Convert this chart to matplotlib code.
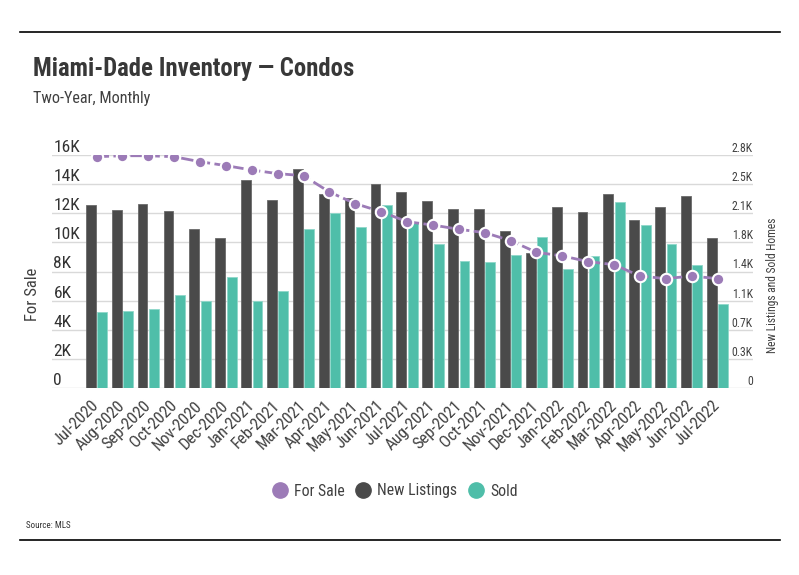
import numpy as np
import matplotlib
matplotlib.use("Agg")
from matplotlib import pyplot as plt
from matplotlib.lines import Line2D

plt.rcParams['font.family'] = ['Roboto Condensed', 'Lato', 'DejaVu Sans']

months = ["Jul-2020", "Aug-2020", "Sep-2020", "Oct-2020", "Nov-2020", "Dec-2020",
          "Jan-2021", "Feb-2021", "Mar-2021", "Apr-2021", "May-2021", "Jun-2021",
          "Jul-2021", "Aug-2021", "Sep-2021", "Oct-2021", "Nov-2021", "Dec-2021",
          "Jan-2022", "Feb-2022", "Mar-2022", "Apr-2022", "May-2022", "Jun-2022",
          "Jul-2022"]

# homes for sale (left axis)
for_sale = [15880, 15950, 15950, 15880, 15540, 15270, 14970, 14720, 14580, 13460,
            12660, 12110, 11420, 11190, 10900, 10670, 10120, 9320, 9070, 8680,
            8470, 7690, 7510, 7690, 7510]

# new listings and sold homes (right axis)
new_listings = [2199, 2139, 2211, 2127, 1911, 1803, 2500, 2259, 2632, 2331, 2279, 2451,
                2355, 2247, 2151, 2151, 1887, 1622, 2175, 2115, 2331, 2019, 2175, 2307,
                1803]
sold = [913, 925, 949, 1118, 1045, 1334, 1045, 1166, 1911, 2103, 1935, 2199,
        1979, 1730, 1526, 1514, 1598, 1815, 1430, 1586, 2235, 1959, 1730, 1478,
        1009]

left_ticks = np.arange(0, 16001, 2000)
right_ticks = np.arange(0, 2801, 350)

PURPLE = '#9c7bb7'
DARK = '#4a4a4a'
TEAL = '#4fbea9'
TXT = '#404040'

fig = plt.figure(figsize=(7.99, 5.75), dpi=100)
ax = fig.add_axes([52 / 799, 1 - 388 / 575, 701 / 799, 233 / 575])
ax2 = ax.twinx()
ax.set_zorder(ax2.get_zorder() + 1)
ax.patch.set_visible(False)

x = np.arange(len(months))

# bars on the right scale
ax2.bar(x - 0.22, new_listings, width=0.38, color=DARK, edgecolor='#6a6a6a', linewidth=0.6, zorder=2)
ax2.bar(x + 0.22, sold, width=0.38, color=TEAL, edgecolor='#8fd8ca', linewidth=0.6, zorder=2)
ax2.set_ylim(0, 2800)
ax2.set_yticks(right_ticks)
ax2.set_yticklabels([f"{v / 1000:.1f}K" if v else "0" for v in right_ticks])
ax2.grid(axis='y', color='#d9d9d9', linewidth=1)
ax2.set_axisbelow(True)
ax2.tick_params(axis='y', length=0, pad=0, labelsize=8.5, labelcolor=TXT)
for lab in ax2.get_yticklabels():
    lab.set_ha('right')
    lab.set_va('bottom')
ax2.set_ylabel("New Listings and Sold Homes", fontsize=8.3, color=TXT)
ax2.yaxis.set_label_coords(1.0185, 0.44)

# for sale line on the left scale
ax.plot(x, for_sale, color=PURPLE, linewidth=2, linestyle=(0, (4.5, 1.6)),
        marker='o', markersize=8.2, markerfacecolor=PURPLE,
        markeredgecolor='white', markeredgewidth=1.5, zorder=3)
ax.set_ylim(0, 16000)
ax.set_yticks(left_ticks)
ax.set_yticklabels(["0"] + [f"{v // 1000}K" for v in left_ticks[1:]])
ax.tick_params(axis='y', length=0, pad=-1, labelsize=12.5, labelcolor='#333333')
for lab in ax.get_yticklabels():
    lab.set_ha('left')
    lab.set_va('bottom')
ax.set_ylabel("For Sale", fontsize=12, color=TXT)
ax.yaxis.set_label_coords(-0.017, 0.40)

ax.set_xlim(-1.72, 25.37)
ax.set_xticks(x)
ax.set_xticklabels(months, rotation=45, ha='right', va='center', rotation_mode='anchor')
ax.tick_params(axis='x', length=0, pad=11, labelsize=12, labelcolor=TXT)

for a in (ax, ax2):
    for s in a.spines.values():
        s.set_visible(False)

# titles and notes
fig.text(33 / 799, 1 - 76 / 575, "Miami-Dade Inventory \u2014 Condos", fontsize=17.8,
         fontweight='bold', color='#383838', va='baseline')
fig.text(33 / 799, 1 - 103 / 575, "Two-Year, Monthly", fontsize=11.6, color=TXT, va='baseline')
fig.text(26 / 799, 1 - 528 / 575, "Source: MLS", fontsize=6.5, color='#333333', va='baseline')

handles = [Line2D([], [], linestyle='none', marker='o', markersize=11, color=c, label=l)
           for c, l in [(PURPLE, 'For Sale'), (DARK, 'New Listings'), (TEAL, 'Sold')]]
fig.legend(handles=handles, loc='center', bbox_to_anchor=(394 / 799, 1 - 491 / 575), ncol=3,
           frameon=False, fontsize=11.3, handletextpad=0.3, columnspacing=0.6,
           labelcolor=TXT, handlelength=1.2)

fig.add_artist(Line2D([20 / 799, 780 / 799], [1 - 32 / 575] * 2, color='black', linewidth=1.2))
fig.add_artist(Line2D([20 / 799, 780 / 799], [1 - 540 / 575] * 2, color='black', linewidth=1.2))

fig.savefig("out.png", dpi=100)
